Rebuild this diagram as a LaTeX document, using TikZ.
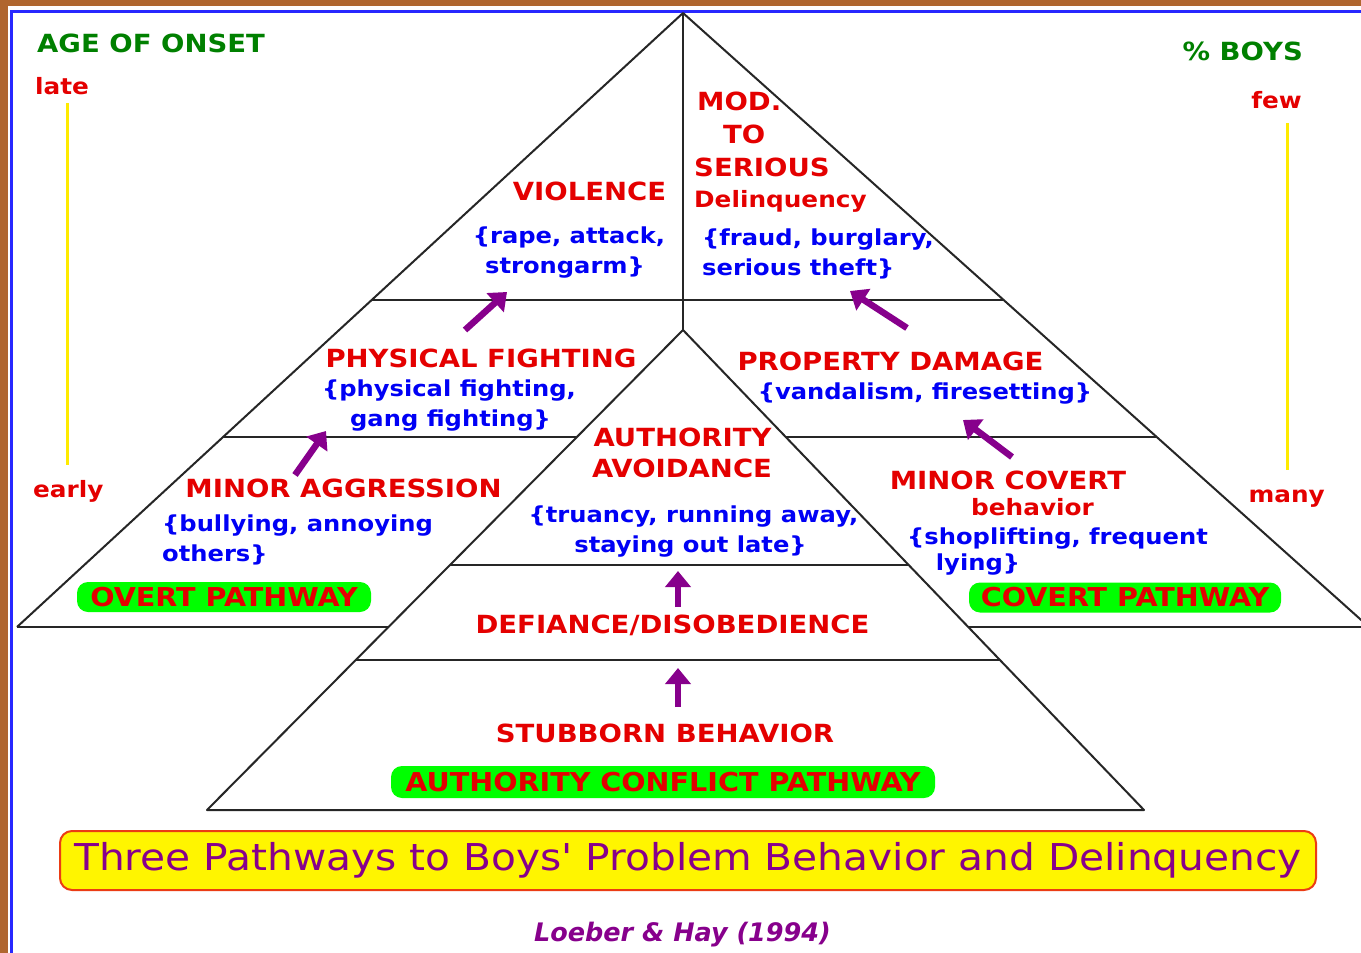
\documentclass[tikz,border=0pt]{standalone}
\usepackage{fontspec}
\setmainfont{DejaVu Sans}
\newfontfamily\pix[FakeStretch=1.1]{DejaVu Sans}
\usetikzlibrary{arrows.meta}
\definecolor{tred}{RGB}{228,0,0}
\definecolor{tblue}{RGB}{0,0,245}
\definecolor{tgreen}{RGB}{0,128,0}
\definecolor{tpurple}{RGB}{135,0,140}
\definecolor{pill}{RGB}{0,255,0}
\definecolor{brownbg}{RGB}{176,102,46}
\definecolor{frameblue}{RGB}{40,40,255}
\definecolor{ybox}{RGB}{255,245,0}
\definecolor{yline}{RGB}{255,235,0}
\definecolor{boxborder}{RGB}{235,60,20}
\begin{document}
\begin{tikzpicture}[x=1pt,y=-1pt,
  redlbl/.style={text=tred,font=\pix\bfseries\fontsize{25}{31}\selectfont,inner sep=0pt},
  redlc/.style={text=tred,font=\pix\bfseries\fontsize{22.5}{31}\selectfont,inner sep=0pt},
  bluelbl/.style={text=tblue,font=\pix\bfseries\fontsize{22}{30}\selectfont,inner sep=0pt},
  greenlbl/.style={text=tgreen,font=\pix\bfseries\fontsize{25}{30}\selectfont,inner sep=0pt},
  pillbox/.style={fill=pill,rounded corners=11pt,inner sep=0pt,minimum height=30pt,text=tred,font=\pix\bfseries\fontsize{26}{30}\selectfont},
  tri/.style={draw=black!85,line width=2pt,line join=round},
  flow/.style={draw=tpurple,line width=6.5pt,-{Triangle[width=25pt,length=16pt]}},
  scaleline/.style={draw=yline,line width=3pt},
]
\useasboundingbox (0,0) rectangle (1361,953);
\clip (0,0) rectangle (1361,953);
% frame
\fill[brownbg] (0,0) rectangle (1361,953);
\fill[white] (8,6) rectangle (1361,953);
\draw[frameblue,line width=2.5pt] (11.5,953) -- (11.5,11.5) -- (1361,11.5);

% pyramid lines
\draw[tri] (17,627) -- (683,13) -- (1369,627);
\draw[tri] (683,13) -- (683,330);
\draw[tri] (207,810) -- (683,330) -- (1144,810) -- cycle;
\draw[tri] (371.7,300) -- (1003.6,300);
\draw[tri] (223,437) -- (576.9,437);
\draw[tri] (785.7,437) -- (1156.6,437);
\draw[tri] (17,627) -- (388.5,627);
\draw[tri] (968.1,627) -- (1369,627);
\draw[tri] (450,565) -- (908.6,565);
\draw[tri] (355.7,660) -- (999.8,660);

% side scales
\node[greenlbl,anchor=base west] (age) at (37,52) {AGE OF ONSET};
\node[redlc,anchor=base west] (late) at (35,94) {late};
\node[redlc,anchor=base west] (early) at (33,497) {early};
\coordinate (lt) at (67,103);
\coordinate (lb) at (67,465);
\draw[scaleline] (lt) -- (lb);
\node[greenlbl,anchor=base east] (boys) at (1303,60) {\% BOYS};
\node[redlc,anchor=base east] (few) at (1302,108) {few};
\node[redlc,anchor=base east] (many) at (1325,502) {many};
\coordinate (rt) at (1287,123);
\coordinate (rb) at (1287,470);
\draw[scaleline] (rt) -- (rb);

% top cells
\node[redlbl,anchor=base] (viol) at (589.5,200) {VIOLENCE};
\node[bluelbl,anchor=base] (viol1) at (569,243) {\{rape, attack,};
\node[bluelbl,anchor=base] (viol2) at (565,273) {strongarm\}};
\node[redlbl,anchor=base west] (mod1) at (697,110) {MOD.};
\node[redlbl,anchor=base west] (mod2) at (723,143) {TO};
\node[redlbl,anchor=base west] (mod3) at (694,176) {SERIOUS};
\node[redlc,anchor=base west] (mod4) at (694,207) {Delinquency};
\node[bluelbl,anchor=base west] (mod5) at (702,245) {\{fraud, burglary,};
\node[bluelbl,anchor=base west] (mod6) at (702,275) {serious theft\}};

% middle cells
\node[redlbl,anchor=base] (phys) at (481,367) {PHYSICAL FIGHTING};
\node[bluelbl,anchor=base] (phys1) at (449,396) {\{physical fighting,};
\node[bluelbl,anchor=base] (phys2) at (450.5,426) {gang fighting\}};
\node[redlbl,anchor=base] (prop) at (890.5,370) {PROPERTY DAMAGE};
\node[bluelbl,anchor=base] (prop1) at (925,399) {\{vandalism, firesetting\}};
\node[redlbl,anchor=base] (auth1) at (682.5,446) {AUTHORITY};
\node[redlbl,anchor=base] (auth2) at (682,477) {AVOIDANCE};
\node[bluelbl,anchor=base] (auth3) at (693.5,522) {\{truancy, running away,};
\node[bluelbl,anchor=base] (auth4) at (690.5,552) {staying out late\}};

% lower cells
\node[redlbl,anchor=base] (minag) at (343.5,497) {MINOR AGGRESSION};
\node[bluelbl,anchor=base west] (minag1) at (162,531) {\{bullying, annoying};
\node[bluelbl,anchor=base west] (minag2) at (162,561) {others\}};
\node[redlbl,anchor=base] (mincov) at (1008,489) {MINOR COVERT};
\node[redlc,anchor=base] (mincov1) at (1032.5,515) {behavior};
\node[bluelbl,anchor=base] (mincov2) at (1057.5,544) {\{shoplifting, frequent};
\node[bluelbl,anchor=base] (mincov3) at (978,570) {lying\}};
\node[pillbox,minimum width=294pt] (overt) at (224,597) {OVERT PATHWAY};
\node[pillbox,minimum width=312pt] (covert) at (1125,597.5) {COVERT PATHWAY};
\node[redlbl,anchor=base] (defi) at (672.5,633) {DEFIANCE/DISOBEDIENCE};
\node[redlbl,anchor=base] (stub) at (665,742) {STUBBORN BEHAVIOR};
\node[pillbox,minimum width=544pt,minimum height=32pt] (acp) at (663,782) {AUTHORITY CONFLICT PATHWAY};

% arrows
\coordinate (a1s) at (465,330); \coordinate (a1e) at (507,292);
\coordinate (a2s) at (295,475); \coordinate (a2e) at (326,431);
\coordinate (a3s) at (907,328); \coordinate (a3e) at (850,291);
\coordinate (a4s) at (1012,457); \coordinate (a4e) at (963,420);
\coordinate (a5s) at (678,607); \coordinate (a5e) at (678,571);
\coordinate (a6s) at (678,707); \coordinate (a6e) at (678,668);
\draw[flow] (a1s) -- (a1e);
\draw[flow] (a2s) -- (a2e);
\draw[flow] (a3s) -- (a3e);
\draw[flow] (a4s) -- (a4e);
\draw[flow] (a5s) -- (a5e);
\draw[flow] (a6s) -- (a6e);

% title
\node[draw=boxborder,line width=2pt,fill=ybox,rounded corners=12pt,minimum width=1256pt,minimum height=59pt,inner sep=0pt,text=tpurple,font=\pix\fontsize{37}{40}\selectfont] (title) at (688,860.5) {\raisebox{-2pt}{Three Pathways to Boys' Problem Behavior and Delinquency}};
\node[text=tpurple,font=\bfseries\itshape\fontsize{25.5}{28}\selectfont,inner sep=0pt] (cite) at (682.5,935) {Loeber \& Hay (1994)};
\end{tikzpicture}
\end{document}
